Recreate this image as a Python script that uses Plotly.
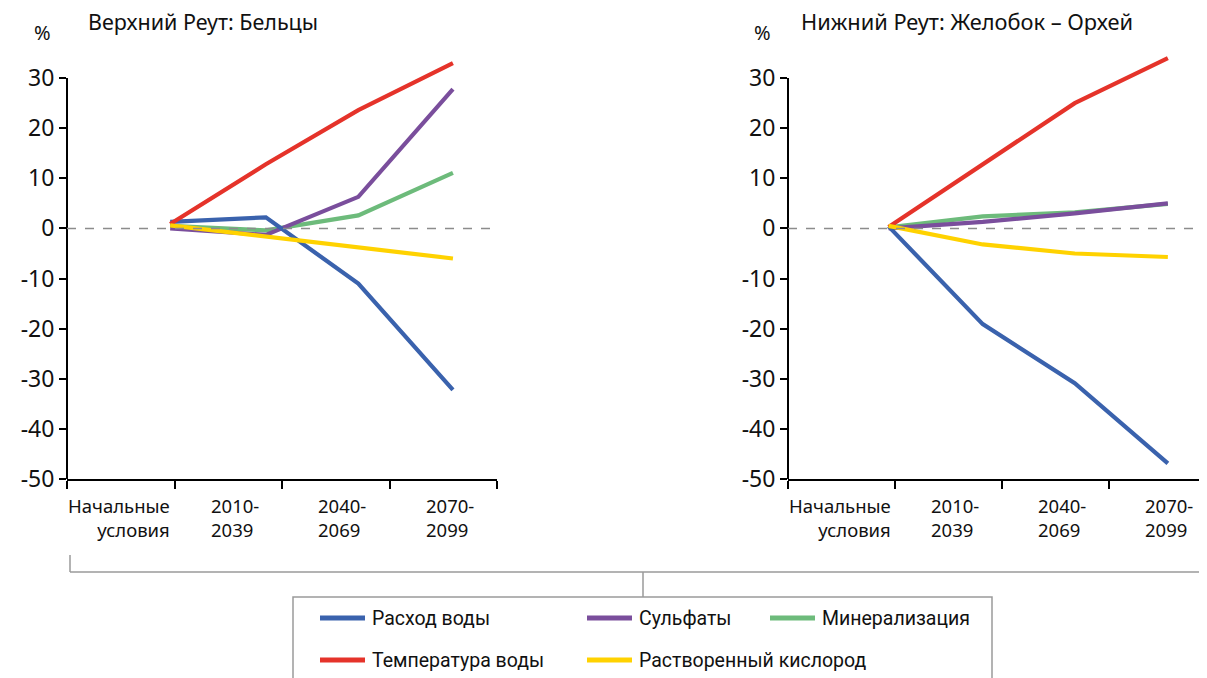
import plotly.graph_objects as go

# x positions of the plotted points (category units; categories span 0-1, 1-2, 2-3, 3-4)
x_left = [0.96, 1.85, 2.71, 3.59]
x_right = [0.94, 1.82, 2.68, 3.55]

series_names = ["Расход воды", "Сульфаты", "Минерализация", "Температура воды", "Растворенный кислород"]
series_colors = ["#3a62ad", "#7a4e9c", "#6dbb7b", "#e5332a", "#ffd200"]

# Верхний Реут: Бельцы (% change)
left_flow = [1.3, 2.2, -11.0, -32.2]
left_sulf = [0.0, -1.3, 6.3, 27.8]
left_mineral = [0.5, -0.4, 2.6, 11.1]
left_temp = [0.9, 12.8, 23.6, 33.0]
left_oxygen = [0.6, -1.6, -3.7, -6.0]

# Нижний Реут: Желобок – Орхей (% change)
right_flow = [0.4, -19.1, -30.9, -46.9]
right_sulf = [0.0, 1.3, 3.0, 5.0]
right_mineral = [0.2, 2.4, 3.2, 4.9]
right_temp = [0.3, 12.8, 25.0, 34.0]
right_oxygen = [0.5, -3.2, -5.0, -5.7]

categories = ["Начальные<br>условия", "2010-<br>2039", "2040-<br>2069", "2070-<br>2099"]
y_ticks = [-50, -40, -30, -20, -10, 0, 10, 20, 30]
y_ticktext = ["-50", "-40", "-30", "-20", "-10", "0", "10", "20", "30"]

# page is shown with an 8px body margin, so work in page pixels and shift
OFF = 8
W, H = 1207 - OFF, 678 - OFF
ML, MR, MT, MB = 67 - OFF, 0, 48 - OFF, 199
PW, PH = W - ML - MR, H - MT - MB


def px(x):
    return (x - OFF - ML) / PW


def py(y):
    return (H - MB - (y - OFF)) / PH


FONT = "Noto Sans, Open Sans, sans-serif"
NARROW = "Roboto, sans-serif"

fig = go.Figure()

left = [left_flow, left_sulf, left_mineral, left_temp, left_oxygen]
right = [right_flow, right_sulf, right_mineral, right_temp, right_oxygen]
draw_order = [2, 1, 0, 3, 4]

for xs, panel, xa, ya in [(x_left, left, "x", "y"), (x_right, right, "x2", "y2")]:
    for i in draw_order:
        fig.add_trace(go.Scatter(
            x=xs, y=panel[i], mode="lines", name=series_names[i],
            line=dict(color=series_colors[i], width=4.2),
            xaxis=xa, yaxis=ya, showlegend=False, hoverinfo="name+y",
        ))

xaxis_style = dict(
    showline=True, linecolor="black", linewidth=2, ticks="outside", ticklen=8,
    tickwidth=2, tickcolor="black", tickvals=[0, 1, 2, 3, 4], showticklabels=False,
    showgrid=False, zeroline=False,
)
yaxis_style = dict(
    range=[-50, 36], tickvals=y_ticks, ticktext=y_ticktext, ticks="outside", ticklen=7, tickwidth=2,
    tickcolor="black", showline=False, showgrid=False, zeroline=False,
    tickfont=dict(family=FONT, size=23, color="#111"),
)

fig.update_layout(
    width=W, height=H, margin=dict(l=ML, r=MR, t=MT, b=MB),
    paper_bgcolor="white", plot_bgcolor="white",
    xaxis=dict(domain=[0, px(497)], range=[0, 4], **xaxis_style),
    xaxis2=dict(domain=[px(788), 1.0], range=[0, (1207 - 788) / 107.0], anchor="y2", **xaxis_style),
    yaxis=dict(anchor="x", **yaxis_style),
    yaxis2=dict(anchor="x2", **yaxis_style),
)

shapes = []
annotations = []
for xr, yr in [("x", "y"), ("x2", "y2")]:
    shapes.append(dict(type="line", xref=f"{xr} domain", yref=yr, x0=0, x1=0, y0=-50, y1=30,
                       line=dict(color="black", width=2)))
    shapes.append(dict(type="line", xref=f"{xr} domain", yref=yr, x0=0, x1=1, y0=0, y1=0,
                       line=dict(color="#8c8c8c", width=1.5, dash="dash")))
    for k, lab in enumerate(categories):
        if k == 0:
            annotations.append(dict(xref=xr, yref="paper", x=0.98, y=py(518), text=lab,
                                    xanchor="right", yanchor="middle", align="right", showarrow=False,
                                    font=dict(family=FONT, size=18.5, color="#111")))
        else:
            annotations.append(dict(xref=xr, yref="paper", x=k + 0.32, y=py(518), text=lab,
                                    xanchor="left", yanchor="middle", align="left", showarrow=False,
                                    font=dict(family=FONT, size=18.5, color="#111")))

# titles and unit labels
for txt, x0, y0, size in [("Верхний Реут: Бельцы", 86, 22, 21.5), ("Нижний Реут: Желобок – Орхей", 799, 22, 21.8),
                          ("%", 32, 32, 20), ("%", 752, 32, 20)]:
    annotations.append(dict(xref="paper", yref="paper", x=px(x0), y=py(y0), text=txt,
                            xanchor="left", yanchor="middle", showarrow=False,
                            font=dict(family=FONT, size=size, color="#111")))

# bracket connecting panels to legend
gray = dict(color="#9a9a9a", width=1.5)
shapes.append(dict(type="line", xref="paper", yref="paper", x0=px(70), x1=1.0, y0=py(572), y1=py(572), line=gray))
shapes.append(dict(type="line", xref="paper", yref="paper", x0=px(70), x1=px(70), y0=py(555), y1=py(572), line=gray))
shapes.append(dict(type="line", xref="paper", yref="paper", x0=px(643), x1=px(643), y0=py(572), y1=py(597), line=gray))
shapes.append(dict(type="rect", xref="paper", yref="paper", x0=px(293), x1=px(992), y0=py(597), y1=py(700),
                   line=gray, fillcolor="rgba(0,0,0,0)"))

# legend entries
legend_pos = [(320, 618), (587, 618), (770, 618), (320, 660), (587, 660)]
for i, (lx, ly) in enumerate(legend_pos):
    shapes.append(dict(type="line", xref="paper", yref="paper", x0=px(lx), x1=px(lx + 45),
                       y0=py(ly), y1=py(ly), line=dict(color=series_colors[i], width=5)))
    annotations.append(dict(xref="paper", yref="paper", x=px(lx + 50), y=py(ly), text=series_names[i],
                            xanchor="left", yanchor="middle", showarrow=False,
                            font=dict(family=NARROW, size=19.5, color="#111")))

fig.update_layout(shapes=shapes, annotations=annotations)

fig.write_html("out.html")
